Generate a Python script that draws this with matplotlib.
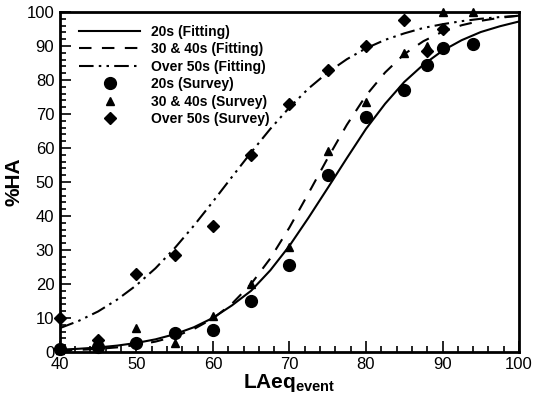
import matplotlib
matplotlib.use('Agg')
from matplotlib import pyplot as plt
from matplotlib.ticker import MultipleLocator

plt.rcParams['font.family'] = ['Liberation Sans', 'DejaVu Sans']
plt.rcParams['mathtext.fontset'] = 'custom'
plt.rcParams['mathtext.rm'] = 'Liberation Sans'
plt.rcParams['mathtext.bf'] = 'Liberation Sans:bold'

# fitted curves, every 2.5 dB
fit_x = [40, 42.5, 45, 47.5, 50, 52.5, 55, 57.5, 60, 62.5, 65, 67.5, 70,
         72.5, 75, 77.5, 80, 82.5, 85, 87.5, 90, 92.5, 95, 97.5, 100]
fit_20s = [0.65, 0.93, 1.31, 1.86, 2.63, 3.70, 5.20, 7.24, 10.0, 13.7, 18.0, 24.0, 31.2,
           39.5, 48.2, 57.0, 65.6, 73.0, 79.4, 84.5, 88.6, 91.7, 94.1, 95.8, 97.2]
fit_3040s = [0.39, 0.59, 0.89, 1.34, 2.02, 3.03, 4.52, 6.71, 9.82, 14.2, 20.0, 27.5, 36.6,
             46.7, 57.0, 66.8, 75.4, 82.2, 87.6, 91.4, 94.2, 96.1, 97.4, 98.3, 98.9]
fit_50s = [6.99, 9.16, 11.9, 15.4, 19.6, 24.6, 30.5, 37.1, 44.2, 51.5, 58.7, 65.6, 71.9,
           77.5, 82.2, 86.1, 89.3, 91.8, 93.7, 95.3, 96.4, 97.3, 98.0, 98.5, 98.9]

# survey points
sv_x = [40, 45, 50, 55, 60, 65, 70, 75, 80, 85, 88, 90, 94]
sv_20s = [1, 1.5, 2.5, 5.5, 6.5, 15, 25.5, 52, 69, 77, 84.5, 89.5, 90.5]
sv_3040s = [0.5, 2, 7, 2.5, 10.5, 20, 31, 59, 73.5, 88, 90, 100, 100]
sv_50x = [40, 45, 50, 55, 60, 65, 70, 75, 80, 85, 88, 90]
sv_50s = [10, 3.5, 23, 28.5, 37, 58, 73, 83, 90, 97.5, 88.5, 95]

fig = plt.figure(figsize=(5.34, 3.99), dpi=100)
ax = fig.add_axes([0.112, 0.118, 0.86, 0.852])

ax.plot(fit_x, fit_20s, color='black', lw=1.5, ls='-', label='20s (Fitting)')
ax.plot(fit_x, fit_3040s, color='black', lw=1.5, ls=(0, (6, 5)), label='30 & 40s (Fitting)')
ax.plot(fit_x, fit_50s, color='black', lw=1.5, ls=(0, (7, 2.5, 1.2, 2.5, 1.2, 2.5)),
        label='Over 50s (Fitting)')
ax.plot(sv_x, sv_20s, 'o', color='black', ms=8.5, ls='none', label='20s (Survey)', clip_on=False)
ax.plot(sv_x, sv_3040s, '^', color='black', ms=6, ls='none', label='30 & 40s (Survey)', clip_on=False)
ax.plot(sv_50x, sv_50s, 'D', color='black', ms=6, ls='none', label='Over 50s (Survey)', clip_on=False)

ax.set_xlim(40, 100)
ax.set_ylim(0, 100)
ax.xaxis.set_major_locator(MultipleLocator(10))
ax.xaxis.set_minor_locator(MultipleLocator(2))
ax.yaxis.set_major_locator(MultipleLocator(10))
ax.yaxis.set_minor_locator(MultipleLocator(2))
ax.tick_params(which='both', direction='in', top=False, right=False, width=1.2)
ax.tick_params(which='major', length=8, labelsize=12)
ax.tick_params(axis='x', which='major', pad=4)
ax.tick_params(axis='y', which='major', pad=4)
ax.tick_params(which='minor', length=4)
for sp in ax.spines.values():
    sp.set_linewidth(2)

ax.set_xlabel(r'$\mathbf{LAeq_{event}}$', fontsize=15, labelpad=0)
ax.set_ylabel('%HA', fontsize=15, fontweight='bold', labelpad=2)

leg = ax.legend(loc='upper left', bbox_to_anchor=(0.018, 0.995), frameon=False,
                handlelength=4.4, prop={'weight': 'bold', 'size': 10},
                borderaxespad=0.4, labelspacing=0.25, handletextpad=0.8, numpoints=1)

plt.savefig('out.png', dpi=100)
